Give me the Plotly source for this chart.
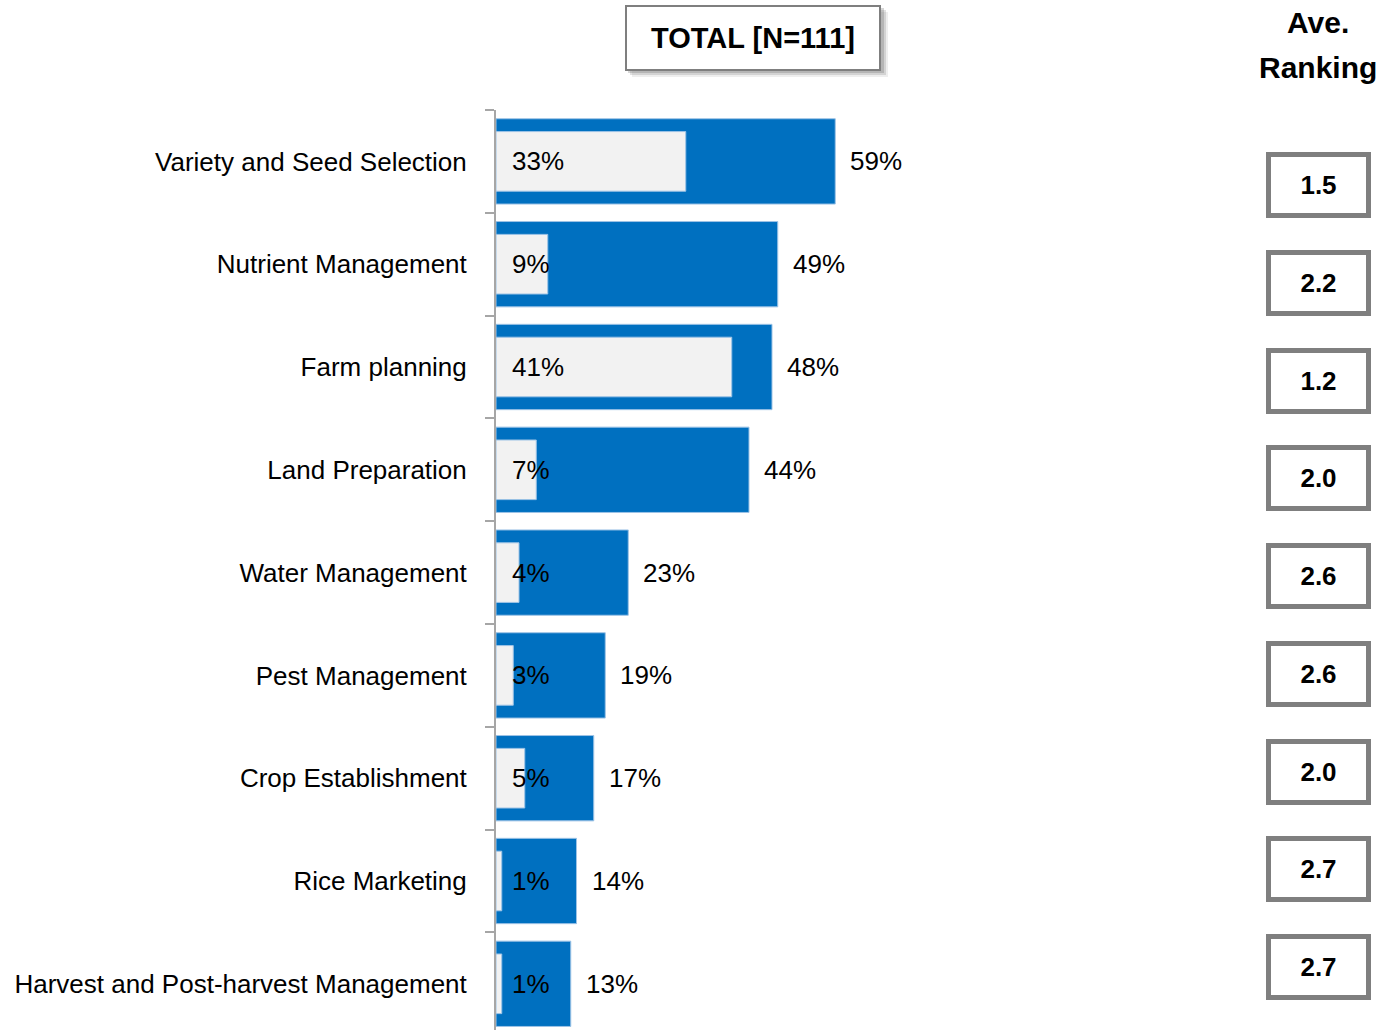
import plotly.graph_objects as go

categories = ["Variety and Seed Selection", "Nutrient Management", "Farm planning",
              "Land Preparation", "Water Management", "Pest Management",
              "Crop Establishment", "Rice Marketing", "Harvest and Post-harvest Management"]
total_pct = [59, 49, 48, 44, 23, 19, 17, 14, 13]
first_pct = [33, 9, 41, 7, 4, 3, 5, 1, 1]
ave_ranking = ["1.5", "2.2", "1.2", "2.0", "2.6", "2.6", "2.0", "2.7", "2.7"]
title_text = "TOTAL [N=111]"
ranking_header = ["Ave.", "Ranking"]

FONT = "Liberation Sans, Arial, sans-serif"
BLUE = "#0070C0"
LIGHT = "#F2F2F2"

W, H = 1382, 1030
L, R, T, B = 496, 142, 110, 0
plot_w = W - L - R
plot_h = H - T - B
row_px = 102.8
px_per_pct = 5.75
x_max = plot_w / px_per_pct
y_bottom = -0.5 + plot_h / row_px


def px_x(px):
    return (px - L) / plot_w


def px_y(py):
    return (H - B - py) / plot_h


ys = list(range(len(categories)))

fig = go.Figure()
fig.add_trace(go.Bar(
    y=ys, x=total_pct, orientation="h", width=0.83,
    marker=dict(color=BLUE, line=dict(color="#9DC3E6", width=1)),
    hoverinfo="skip", showlegend=False))
fig.add_trace(go.Bar(
    y=ys, x=first_pct, orientation="h", width=0.58,
    marker=dict(color=LIGHT, line=dict(color="#9DC3E6", width=1)),
    hoverinfo="skip", showlegend=False))

annotations = []
for i, (t, f) in enumerate(zip(total_pct, first_pct)):
    annotations.append(dict(x=t, y=i, xref="x", yref="y", text=f"{t}%",
                            showarrow=False, xanchor="left", xshift=13,
                            font=dict(family=FONT, size=26, color="black")))
    annotations.append(dict(x=0, y=i, xref="x", yref="y", text=f"{f}%",
                            showarrow=False, xanchor="left", xshift=14,
                            font=dict(family=FONT, size=26, color="black")))

# title box with soft shadow
tcx, tcy = 753, 37.5
tw, th = 256, 65
shapes = []
for k, a in ((7, 0.10), (5, 0.18), (3, 0.25)):
    shapes.append(dict(type="rect", xref="paper", yref="paper", layer="below",
                       x0=px_x(tcx - tw / 2 + k), x1=px_x(tcx + tw / 2 + k),
                       y0=px_y(tcy + th / 2 + k), y1=px_y(tcy - th / 2 + k),
                       fillcolor=f"rgba(90,90,90,{a})", line=dict(width=0)))
annotations.append(dict(
    x=px_x(tcx), y=px_y(tcy), xref="paper", yref="paper", text=title_text,
    showarrow=False, xanchor="center", yanchor="middle",
    width=252, height=62, borderpad=0, bgcolor="white",
    bordercolor="#7F7F7F", borderwidth=2,
    font=dict(family=FONT, size=29, color="black", weight="bold")))

# ranking header
rx = px_x(1318)
for txt, cy in zip(ranking_header, (22, 68)):
    annotations.append(dict(
        x=rx, y=px_y(cy), xref="paper", yref="paper",
        text=txt, showarrow=False, xanchor="center", yanchor="middle",
        font=dict(family=FONT, size=30, color="black", weight="bold")))

# ranking boxes (evenly spaced)
first_c, last_c = 185, 967
n = len(ave_ranking)
for i, r in enumerate(ave_ranking):
    cy = first_c + (last_c - first_c) * i / (n - 1)
    annotations.append(dict(
        x=rx, y=px_y(cy), xref="paper", yref="paper", text=r,
        showarrow=False, xanchor="center", yanchor="middle",
        width=95, height=56, borderpad=0, bgcolor="white",
        bordercolor="#7F7F7F", borderwidth=5,
        font=dict(family=FONT, size=26, color="black", weight="bold")))

fig.update_layout(
    width=W, height=H, margin=dict(l=L, r=R, t=T, b=B, autoexpand=False),
    barmode="overlay", plot_bgcolor="white", paper_bgcolor="white",
    showlegend=False, annotations=annotations, shapes=shapes,
    xaxis=dict(range=[0, x_max], visible=False, fixedrange=True),
    yaxis=dict(range=[y_bottom, -0.5], tickmode="array", tickvals=ys,
               ticktext=categories, ticks="", showgrid=False, zeroline=False,
               showline=True, linecolor="#A6A6A6", linewidth=2,
               ticklabelstandoff=22, fixedrange=True,
               tickfont=dict(family=FONT, size=26, color="black"),
               minor=dict(tickmode="array", tickvals=[i - 0.5 for i in range(n + 1)],
                          ticks="outside", ticklen=9, tickwidth=2,
                          tickcolor="#A6A6A6", showgrid=False)),
)

fig.write_html("out.html", config={"displayModeBar": False},
               post_script="document.body.style.margin='0';")
